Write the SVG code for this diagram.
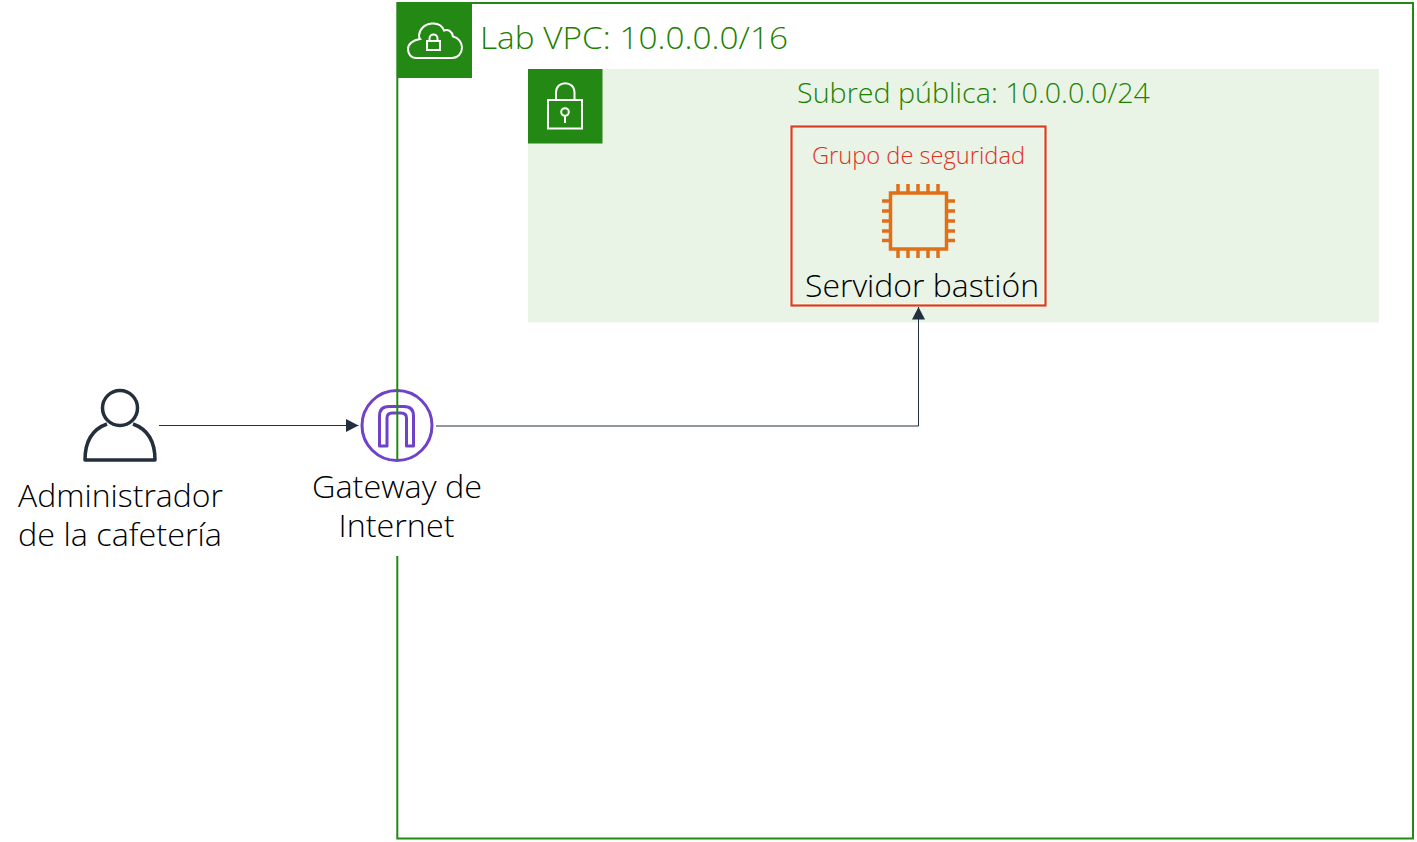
<svg xmlns="http://www.w3.org/2000/svg" width="1417" height="842" viewBox="0 0 1417 842">
<style>
text{font-family:"Open Sans","Noto Sans","Liberation Sans",sans-serif;font-weight:300}
.g{fill:#1d8102}.k{fill:#000}.i{fill:none;stroke:#fff;stroke-width:2}
.c{fill:none;stroke:#232f3e;stroke-width:1}
.o{fill:none;stroke:#e07018;stroke-width:3.500}
.p{fill:none;stroke:#6f42c9;stroke-width:3;stroke-linejoin:round}
.d{fill:none;stroke:#232f3e;stroke-width:3.500;stroke-linejoin:round}
</style>
<defs>
<marker id="a" markerUnits="userSpaceOnUse" markerWidth="13" markerHeight="14" refX="12.500" refY="7" orient="auto"><path d="M0 0.500L12.500 7L0 13.500Z" fill="#232f3e"/></marker>
</defs>
<rect width="1417" height="842" fill="#fff"/>
<g id="gateway">
<circle cx="397" cy="425.500" r="35" class="p"/>
<path class="p" d="M379.500 446V416Q379.500 406.500 389 406.500H404Q413.500 406.500 413.500 416V446H406.500V418Q406.500 413 401 413H392Q387 413 387 418V446Z"/>
<text text-anchor="middle" font-size="31" class="k"><tspan x="397" y="498" textLength="170" lengthAdjust="spacingAndGlyphs">Gateway de</tspan><tspan x="396.500" y="537" textLength="116" lengthAdjust="spacingAndGlyphs">Internet</tspan></text>
</g>
<g id="vpc">
<path d="M397.300 460V3H1413V838.500H397.300V556" fill="none" stroke="#248814" stroke-width="2"/>
<rect x="397" y="3" width="75" height="75" fill="#248814"/>
<path class="i" d="M416 58H452C458 58 462 53 462 47.500C462 42 458 37.500 453 36.500C452 31 448 29 444 30.500C442 25 437 23 431.500 23.500C425 24 420 28.500 419 35C419 37 419 38 420 39C413 40 408 44 408 49C408 54 411 58 416 58Z"/>
<rect class="i" x="427" y="41" width="13" height="9"/>
<path class="i" d="M429.500 41V38.500C429.500 33 437.500 33 437.500 38.500V41"/>
<text x="480" y="49" font-size="32" class="g" textLength="308" lengthAdjust="spacingAndGlyphs">Lab VPC: 10.0.0.0/16</text>
</g>
<g id="subnet">
<rect x="528" y="69" width="851" height="253.500" fill="#e9f3e6"/>
<rect x="528" y="69" width="74.500" height="74.500" fill="#248814"/>
<rect class="i" x="548" y="100" width="34" height="28.500"/>
<path class="i" d="M556 100V92.500C556 80 574.500 80 574.500 92.500V100"/>
<circle class="i" cx="565" cy="112" r="3.800"/>
<path class="i" d="M565 115.800V123"/>
<text x="797" y="103" font-size="27" class="g" textLength="353" lengthAdjust="spacingAndGlyphs">Subred pública: 10.0.0.0/24</text>
</g>
<g id="security-group">
<rect x="791.500" y="126.500" width="254" height="179" fill="none" stroke="#fff" stroke-width="4" opacity=".6"/>
<rect x="791.500" y="126.500" width="254" height="179" fill="none" stroke="#d9401f" stroke-width="2.200"/>
<text x="918.500" y="164" font-size="23" fill="#e2301a" text-anchor="middle" textLength="213" lengthAdjust="spacingAndGlyphs">Grupo de seguridad</text>
</g>
<g id="bastion">
<rect class="o" x="890.500" y="193" width="56" height="56"/>
<path class="o" d="M898 184V193M908 184V193M918 184V193M928 184V193M938 184V193M898 249V258M908 249V258M918 249V258M928 249V258M938 249V258M882 201H890M882 211H890M882 221H890M882 231H890M882 240.500H890M947 201H955M947 211H955M947 221H955M947 231H955M947 240.500H955"/>
<text x="805" y="297" font-size="31" class="k" textLength="234" lengthAdjust="spacingAndGlyphs">Servidor bastión</text>
</g>
<g id="admin">
<circle cx="120" cy="408" r="17.500" class="d"/>
<path class="d" d="M107 424C93 429 85 441 85 460H155C155 441 147 429 133 424"/>
<text text-anchor="middle" font-size="31" class="k"><tspan x="120.500" y="507" textLength="205" lengthAdjust="spacingAndGlyphs">Administrador</tspan><tspan x="120" y="546" textLength="204" lengthAdjust="spacingAndGlyphs">de la cafetería</tspan></text>
</g>
<g id="connectors">
<path class="c" d="M159 425.500H358.500" marker-end="url(#a)"/>
<path class="c" d="M436 426H918.500V307" marker-end="url(#a)"/>
</g>
</svg>
